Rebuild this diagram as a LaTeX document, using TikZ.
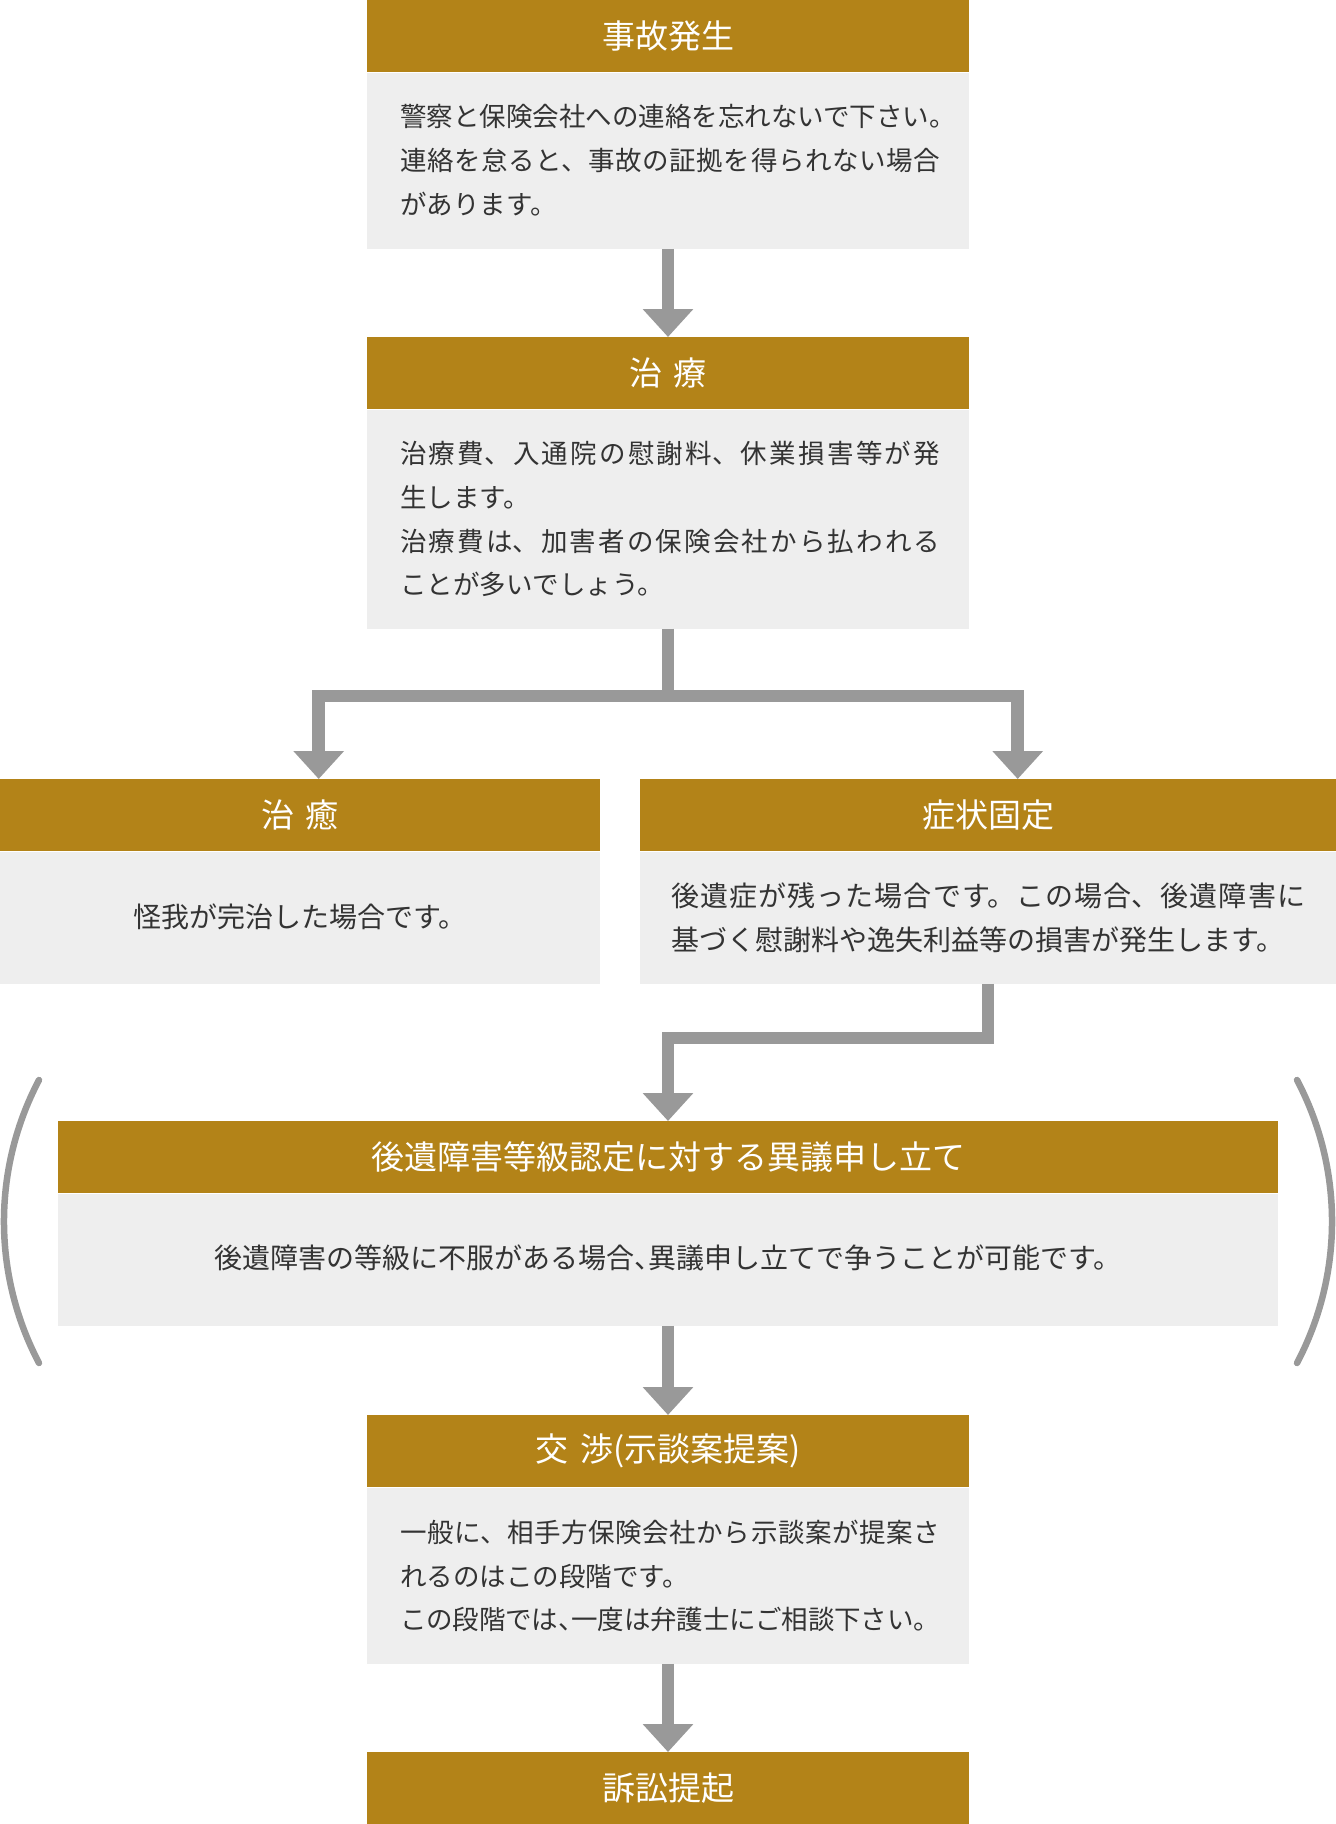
\documentclass[tikz,border=0pt]{standalone}
\usepackage{fontspec}
\setmainfont{Noto Sans CJK JP}
\usetikzlibrary{arrows.meta}
\XeTeXlinebreaklocale "ja"
\XeTeXlinebreakskip=0pt plus 5pt minus 0.5pt
\definecolor{gold}{RGB}{179,131,24}
\definecolor{bodygray}{RGB}{238,238,238}
\definecolor{arrowgray}{RGB}{153,153,153}
\definecolor{textgray}{RGB}{51,51,51}
\newcommand{\wsp}{\spaceskip=0.36em\relax}
\begin{document}
\begin{tikzpicture}[x=1pt,y=-1pt,
  hd/.style={fill=gold, text=white, inner sep=0pt, minimum height=72pt,
    font=\fontsize{33}{40}\selectfont},
  bd/.style={fill=bodygray, inner sep=0pt},
  txtj/.style={text=textgray, inner sep=0pt, align=justify,
    font=\fontsize{26.5}{43.8}\selectfont},
  txtb/.style={text=textgray, inner sep=0pt, align=justify,
    font=\fontsize{28}{43.5}\selectfont},
  txtc/.style={text=textgray, inner sep=0pt, font=\fontsize{28}{43.5}\selectfont},
  conn/.style={draw=arrowgray, line width=12.5pt, line join=miter,
    -{Triangle[width=49pt,length=28pt]}},
  paren/.style={draw=arrowgray, line width=6.5pt, line cap=round}]
\useasboundingbox (0,0) rectangle (1336,1824);

% box 1
\node[hd, minimum width=602pt, anchor=north] (h1) at (668,0) {事故発生};
\node[bd, minimum width=602pt, minimum height=176pt, anchor=north] (b1) at (h1.south) {};
\node[txtj, text width=540pt, anchor=west] (t1) at (400,160)
  {\parindent=0pt \hbox{警察と保険会社への連絡を忘れないで下さい。}\par 連絡を怠ると、事故の証拠を得られない場合\linebreak があります。};

% box 2
\node[hd, minimum width=602pt, anchor=north] (h2) at (668,337) {\wsp 治 療};
\node[bd, minimum width=602pt, minimum height=219pt, anchor=north] (b2) at (h2.south) {};
\node[txtj, text width=540pt, anchor=west] (t2) at (400,519)
  {\parindent=0pt 治療費、入通院の慰謝料、休業損害等が発\linebreak 生します。\par 治療費は、加害者の保険会社から払われる\linebreak ことが多いでしょう。};

% box 3
\node[hd, minimum width=600pt, anchor=north] (h3) at (300,779) {\wsp 治 癒};
\node[bd, minimum width=600pt, minimum height=132pt, anchor=north] (b3) at (h3.south) {};
\node[txtc] (t3) at (300,917) {怪我が完治した場合です。};

% box 4
\node[hd, minimum width=696pt, anchor=north] (h4) at (988,779) {症状固定};
\node[bd, minimum width=696pt, minimum height=132pt, anchor=north] (b4) at (h4.south) {};
\node[txtb, text width=634pt, anchor=west] (t4) at (671,918)
  {\parindent=0pt 後遺症が残った場合です。この場合、後遺障害に\linebreak 基づく慰謝料や逸失利益等の損害が発生します。};

% box 5
\node[hd, minimum width=1220pt, anchor=north] (h5) at (668,1121) {後遺障害等級認定に対する異議申し立て};
\node[bd, minimum width=1220pt, minimum height=132pt, anchor=north] (b5) at (h5.south) {};
\node[txtc] (t5) at (668,1258)
  {後遺障害の等級に不服がある場合\makebox[0.5em][l]{、}異議申し立てで争うことが可能です。};

% box 6
\node[hd, minimum width=602pt, anchor=north] (h6) at (668,1415) {\wsp 交 渉(示談案提案)};
\node[bd, minimum width=602pt, minimum height=176pt, anchor=north] (b6) at (h6.south) {};
\node[txtj, text width=540pt, anchor=west] (t6) at (400,1576)
  {\parindent=0pt 一般に、相手方保険会社から示談案が提案さ\linebreak れるのはこの段階です。\par この段階では\makebox[0.5em][l]{、}一度は弁護士にご相談下さい。};

% box 7
\node[hd, minimum width=602pt, anchor=north] (h7) at (668,1752) {訴訟提起};

% connectors
\coordinate (jl) at (318.7,696);
\coordinate (jr) at (1017.7,696);
\coordinate (la) at (318.7,779);
\coordinate (ra) at (1017.7,779);
\coordinate (jm) at (668,1038);
\draw[conn] (b1.south) -- (h2.north);
\draw[conn] (b2.south) |- (jl) -- (la);
\draw[conn] (b2.south) |- (jr) -- (ra);
\draw[conn] (b4.south) |- (jm) -- (h5.north);
\draw[conn] (b5.south) -- (h6.north);
\draw[conn] (b6.south) -- (h7.north);

% brackets around box 5
\draw[paren] (39,1080) .. controls (-7.7,1168.7) and (-7.7,1274.3) .. (39,1363);
\draw[paren] (1297,1080) .. controls (1343.7,1168.7) and (1343.7,1274.3) .. (1297,1363);
\end{tikzpicture}
\end{document}
